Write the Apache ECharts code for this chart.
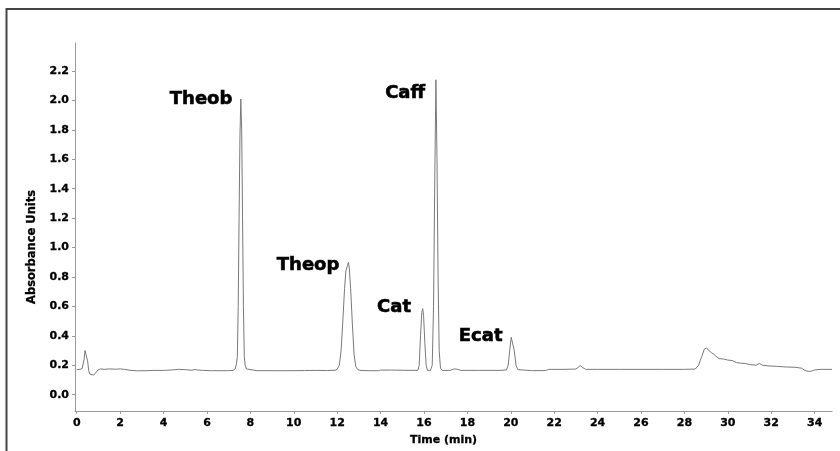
<!DOCTYPE html>
<html>
<head>
<meta charset="utf-8">
<script src="https://cdn.jsdelivr.net/npm/echarts@6/dist/echarts.min.js"></script>
<style>html,body{margin:0;padding:0;background:#fff;}#c{width:840px;height:451px;}</style>
</head>
<body>
<div id="c"></div>
<script>
// Chromatogram trace: time (min) and absorbance (AU)
var times = [0.00,0.15,0.25,0.30,0.34,0.38,0.42,0.46,0.50,0.55,0.60,0.68,0.78,0.88,0.98,1.10,1.30,1.50,1.80,2.00,2.20,2.50,2.80,3.20,3.60,4.00,4.40,4.70,5.00,5.30,5.45,5.60,5.80,6.20,6.60,7.00,7.20,7.30,7.36,7.40,7.44,7.48,7.52,7.56,7.60,7.64,7.68,7.72,7.76,7.82,7.90,8.30,9.00,9.50,10.00,10.50,11.00,11.50,11.90,12.00,12.10,12.18,12.26,12.34,12.40,12.44,12.48,12.52,12.56,12.62,12.70,12.78,12.86,12.95,13.10,13.50,13.90,14.00,14.50,15.00,15.50,15.72,15.78,15.84,15.90,15.94,15.98,16.04,16.10,16.16,16.22,16.30,16.38,16.44,16.50,16.55,16.60,16.65,16.70,16.76,16.85,17.20,17.40,17.55,17.70,18.50,19.50,19.80,19.88,19.95,20.02,20.06,20.10,20.16,20.24,20.32,20.40,21.00,21.60,21.75,22.50,23.00,23.10,23.20,23.30,23.45,24.00,25.00,26.00,27.00,28.00,28.50,28.65,28.80,28.92,29.02,29.12,29.25,29.35,29.45,29.60,29.80,30.00,30.20,30.40,30.60,30.80,31.00,31.30,31.45,31.60,31.90,32.30,32.70,33.10,33.40,33.55,33.70,33.85,34.00,34.30,34.80];
var absorbance = [0.170,0.172,0.178,0.190,0.240,0.300,0.312,0.290,0.230,0.165,0.140,0.130,0.133,0.150,0.168,0.175,0.172,0.175,0.173,0.175,0.172,0.165,0.162,0.163,0.165,0.165,0.168,0.172,0.170,0.166,0.171,0.167,0.165,0.163,0.163,0.163,0.165,0.175,0.210,0.260,0.600,1.200,1.750,2.010,1.800,1.200,0.600,0.260,0.200,0.175,0.165,0.163,0.163,0.163,0.163,0.164,0.165,0.164,0.166,0.172,0.200,0.300,0.500,0.720,0.840,0.850,0.880,0.900,0.860,0.720,0.480,0.270,0.190,0.170,0.164,0.163,0.163,0.167,0.167,0.166,0.165,0.166,0.200,0.400,0.560,0.585,0.540,0.350,0.200,0.165,0.160,0.165,0.200,0.600,1.500,2.140,1.600,0.800,0.300,0.180,0.165,0.165,0.175,0.172,0.165,0.165,0.165,0.168,0.200,0.300,0.390,0.400,0.380,0.300,0.200,0.170,0.163,0.163,0.164,0.172,0.172,0.174,0.185,0.198,0.185,0.172,0.172,0.172,0.172,0.172,0.172,0.174,0.200,0.260,0.310,0.318,0.300,0.285,0.275,0.262,0.245,0.242,0.235,0.232,0.218,0.214,0.212,0.205,0.200,0.212,0.200,0.195,0.192,0.188,0.186,0.180,0.165,0.158,0.160,0.168,0.172,0.172];

// Peak annotations
var peakNames = ['Theob','Theop','Cat','Caff','Ecat'];
var peakLabelX = [5.73,10.66,14.62,15.13,18.61];
var peakLabelY = [2.01,0.878,0.595,2.05,0.394];

// Tick labels
var xTicks = [0,2,4,6,8,10,12,14,16,18,20,22,24,26,28,30,32,34];
var yTicks = [0,0.2,0.4,0.6,0.8,1.0,1.2,1.4,1.6,1.8,2.0,2.2];

var trace = times.map(function(t,i){return [t, absorbance[i]];});
var labels = peakNames.map(function(n,i){return {value:[peakLabelX[i], peakLabelY[i]], name:n};});

var FONT = 'DejaVu Sans';
var chart = echarts.init(document.getElementById('c'), null, {renderer:'canvas'});
chart.setOption({
  animation:false,
  backgroundColor:'#fff',
  grid:{left:75, right:8, top:43, bottom:36, containLabel:false},
  xAxis:{
    type:'value', min:-0.08, max:34.8,
    name:'Time (min)', nameLocation:'middle', nameGap:24,
    nameTextStyle:{fontFamily:FONT, fontWeight:'bold', fontSize:11, color:'#000', padding:[0,20,0,0], textBorderColor:'#000', textBorderWidth:0.3},
    axisLine:{show:true, onZero:false, lineStyle:{color:'#999', width:1}},
    axisTick:{show:true, length:3, customValues:xTicks, lineStyle:{color:'#999'}},
    axisLabel:{customValues:xTicks, margin:7, fontFamily:FONT, fontWeight:'bold', fontSize:11, color:'#000', textBorderColor:'#000', textBorderWidth:0.3,
      formatter:function(v){return String(v);}},
    splitLine:{show:false}
  },
  yAxis:{
    type:'value', min:-0.11, max:2.39,
    name:'Absorbance Units', nameLocation:'middle', nameGap:34,
    nameTextStyle:{fontFamily:FONT, fontWeight:'bold', fontSize:11.5, color:'#000', padding:[0,40,0,0], textBorderColor:'#000', textBorderWidth:0.3},
    axisLine:{show:true, onZero:false, lineStyle:{color:'#999', width:1}},
    axisTick:{show:true, length:3, customValues:yTicks, lineStyle:{color:'#999'}},
    axisLabel:{customValues:yTicks, margin:6, fontFamily:FONT, fontWeight:'bold', fontSize:11, color:'#000', textBorderColor:'#000', textBorderWidth:0.3,
      formatter:function(v){return v.toFixed(1);}},
    splitLine:{show:false}
  },
  graphic:[{type:'polyline', silent:true, shape:{points:[[6.5,451],[6.5,9],[840,9]]}, style:{stroke:'#444', lineWidth:2, fill:null}}],
  series:[
    {type:'line', data:trace, showSymbol:false, symbol:'none', lineStyle:{color:'#7a7a7a', width:1}, z:2},
    {type:'scatter', data:labels, symbolSize:0, z:3, itemStyle:{opacity:1},
     label:{show:true, position:'inside', opacity:1, formatter:function(p){return p.name;}, fontFamily:FONT, fontWeight:'bold', fontSize:18, color:'#000', textBorderColor:'#000', textBorderWidth:0.6}}
  ]
});
</script>
</body>
</html>
